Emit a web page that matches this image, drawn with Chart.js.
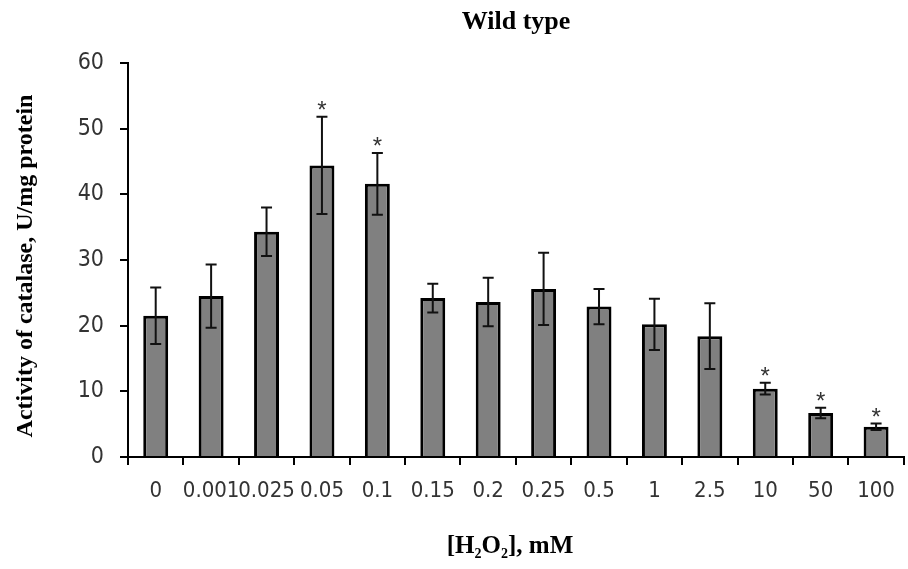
<!DOCTYPE html>
<html>
<head>
<meta charset="utf-8">
<title>Wild type</title>
<script src="https://cdn.jsdelivr.net/npm/chart.js@4.4.1/dist/chart.umd.min.js"></script>
<style>
  html, body { margin: 0; padding: 0; background: #fff; }
  #wrap { width: 908px; height: 569px; }
</style>
</head>
<body>
<div id="wrap"><canvas id="chart" width="908" height="569"></canvas></div>
<script>
/* ── Data ───────────────────────────────────────────── */
const doses       = ['0', '0.001', '0.025', '0.05', '0.1', '0.15', '0.2', '0.25', '0.5', '1', '2.5', '10', '50', '100'];
const activity    = [21.5, 24.5, 34.3, 44.4, 41.6, 24.2, 23.6, 25.6, 22.9, 20.2, 18.4, 10.4, 6.7, 4.6];
const activityErr = [4.3, 4.8, 3.7, 7.4, 4.7, 2.2, 3.7, 5.5, 2.7, 3.9, 5.0, 0.9, 0.8, 0.5];
const significant = [false, false, false, true, true, false, false, false, false, false, false, true, true, true];
const yTicks      = [0, 10, 20, 30, 40, 50, 60];

const tickFont  = "'Liberation Sans Narrow', 'DejaVu Sans Condensed', sans-serif";
const titleFont = "'Liberation Serif', 'Times New Roman', serif";

/* ── Error bars + asterisks ─────────────────────────── */
const errorBars = {
  id: 'errorBars',
  afterDatasetsDraw(chart) {
    const { ctx } = chart;
    const y = chart.scales.y;
    const meta = chart.getDatasetMeta(0);
    ctx.save();
    ctx.strokeStyle = '#111';
    ctx.lineWidth = 2;
    meta.data.forEach((bar, i) => {
      const top = y.getPixelForValue(activity[i] + activityErr[i]);
      const bot = y.getPixelForValue(activity[i] - activityErr[i]);
      ctx.beginPath();
      ctx.moveTo(bar.x, top); ctx.lineTo(bar.x, bot);
      ctx.moveTo(bar.x - 5.5, top); ctx.lineTo(bar.x + 5.5, top);
      ctx.moveTo(bar.x - 5.5, bot); ctx.lineTo(bar.x + 5.5, bot);
      ctx.stroke();
      if (significant[i]) {
        ctx.fillStyle = '#333';
        ctx.font = "24px 'Liberation Sans', sans-serif";
        ctx.textAlign = 'center';
        ctx.textBaseline = 'alphabetic';
        ctx.fillText('*', bar.x, top + 1);
      }
    });
    ctx.restore();
  }
};

/* ── Titles (drawn by hand for the subscripts) ──────── */
const titles = {
  id: 'titles',
  afterDraw(chart) {
    const { ctx } = chart;
    ctx.save();
    ctx.fillStyle = '#000';
    ctx.textBaseline = 'alphabetic';

    ctx.font = `bold 26px ${titleFont}`;
    ctx.textAlign = 'center';
    ctx.fillText('Wild type', 516, 29);

    // y title, rotated
    ctx.font = `bold 24px ${titleFont}`;
    ctx.save();
    ctx.translate(32, 266);
    ctx.rotate(-Math.PI / 2);
    ctx.fillText('Activity of catalase, U/mg protein', 0, 0);
    ctx.restore();

    // x title: [H2O2], mM
    const parts = [['[H', 0], ['2', 1], ['O', 0], ['2', 1], ['], mM', 0]];
    const big = `bold 25px ${titleFont}`, small = `bold 14px ${titleFont}`;
    let w = 0;
    parts.forEach(([t, s]) => { ctx.font = s ? small : big; w += ctx.measureText(t).width; });
    let x = 510 - w / 2;
    ctx.textAlign = 'left';
    parts.forEach(([t, s]) => {
      ctx.font = s ? small : big;
      ctx.fillText(t, x, s ? 558 : 553);
      x += ctx.measureText(t).width;
    });
    ctx.restore();
  }
};

/* ── Chart ──────────────────────────────────────────── */
new Chart(document.getElementById('chart'), {
  type: 'bar',
  data: {
    labels: doses,
    datasets: [{
      data: activity,
      backgroundColor: '#808080',
      borderColor: '#000',
      borderWidth: 3,
      categoryPercentage: 1,
      barPercentage: 0.45,
    }]
  },
  options: {
    responsive: false,
    devicePixelRatio: 1,
    animation: false,
    layout: { padding: { top: 63, right: 1, left: 0, bottom: 0 } },
    plugins: { legend: { display: false }, tooltip: { enabled: false }, title: { display: false } },
    scales: {
      x: {
        afterFit: s => { s.height = 112; },
        border: { color: '#000', width: 2 },
        grid: { offset: true, drawOnChartArea: false, color: '#000', lineWidth: 2, tickLength: 8 },
        ticks: { color: '#333', font: { family: tickFont, size: 22 }, padding: 13, maxRotation: 0, autoSkip: false }
      },
      y: {
        min: 0, max: 60,
        afterFit: s => { s.width = 128; },
        afterBuildTicks: s => { s.ticks = yTicks.map(v => ({ value: v })); },
        border: { color: '#000', width: 2 },
        grid: { drawOnChartArea: false, color: '#000', lineWidth: 2, tickLength: 8 },
        ticks: { color: '#333', font: { family: tickFont, size: 23 }, padding: 16 }
      }
    }
  },
  plugins: [errorBars, titles]
});
</script>
</body>
</html>
